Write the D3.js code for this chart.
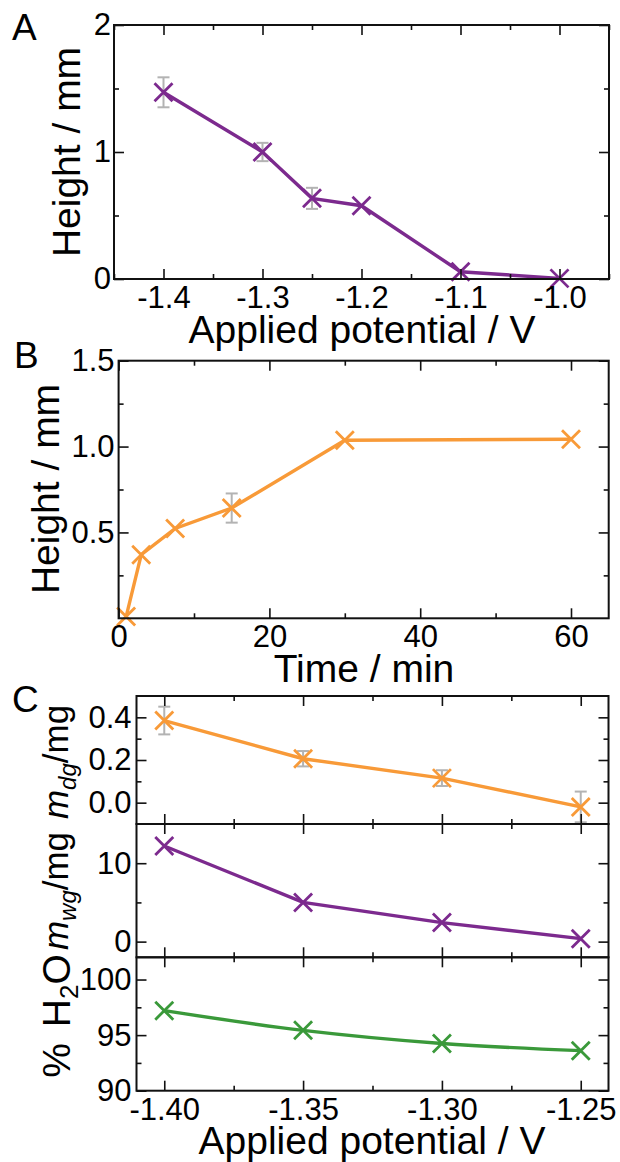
<!DOCTYPE html>
<html>
<head>
<meta charset="utf-8">
<script src="https://cdn.jsdelivr.net/npm/d3@7"></script>
<style>
  body { margin: 0; background: #fff; }
  svg { display: block; }
</style>
</head>
<body>
<svg id="chart" width="620" height="1162"></svg>
<script>
// panel A: gel height vs applied potential
const potA = [-1.4, -1.3, -1.25, -1.2, -1.1, -1.0];
const heightA = [1.47, 1.0, 0.635, 0.577, 0.057, 0.005];
const errA = [0.118, 0.072, 0.083, 0, 0, 0];
const xTicksA = [-1.4, -1.3, -1.2, -1.1, -1.0];
const xMinorA = [-1.45, -1.35, -1.25, -1.15, -1.05, -0.95];
const yTicksA = [0, 1, 2];
const yMinorA = [0.5, 1.5];

// panel B: gel height vs time
const timeB = [1, 3, 7.5, 15, 30, 60];
const heightB = [0.01, 0.37, 0.523, 0.642, 1.037, 1.043];
const errB = [0, 0, 0, 0.085, 0, 0];
const xTicksB = [0, 20, 40, 60];
const xMinorB = [10, 30, 50];
const yTicksB = [0.5, 1.0, 1.5];
const yMinorB = [0.25, 0.75, 1.25];

// panel C: dry mass, wet mass, water content vs applied potential
const potC = [-1.40, -1.35, -1.30, -1.25];
const dryMass = [0.385, 0.206, 0.115, -0.02];
const dryErr = [0.065, 0.036, 0.037, 0.072];
const wetMass = [12.2, 5.0, 2.43, 0.38];
const waterPct = [97.2, 95.43, 94.25, 93.6];
const xTicksC = [-1.40, -1.35, -1.30, -1.25];
const xMinorC = [-1.375, -1.325, -1.275];
const yTicksDry = [0.0, 0.2, 0.4];
const yMinorDry = [0.1, 0.3];
const yTicksWet = [0, 10];
const yMinorWet = [5];
const yTicksWater = [90, 95, 100];
const yMinorWater = [92.5, 97.5];

const purple = "#7c2a8e";
const orange = "#f89a38";
const green = "#3a993a";
const grey = "#b3b3b3";
const FONT = "'Liberation Sans', Arial, Helvetica, sans-serif";

const svg = d3.select("#chart").attr("font-family", FONT);

// plain hyphen for negatives, like the original figure
const fmt = spec => d => d3.format(spec)(d).replace("\u2212", "-");

// box with inward ticks on all four sides
function frame(g, x, y, o) {
  const [x0, x1] = x.range();
  const [yb, yt] = y.range();
  const big = 10, small = 5;

  function side(axisFn, scale, pos, major, minor, f, pad) {
    const a = g.append("g").attr("transform", pos);
    a.call(axisFn(scale).tickValues(major).tickSizeInner(-big).tickSizeOuter(0)
      .tickPadding(pad || 4).tickFormat(f || ""));
    a.append("g").call(axisFn(scale).tickValues(minor).tickSizeInner(-small).tickSizeOuter(0).tickFormat(""));
    a.selectAll(".domain").remove();
    a.selectAll("line").attr("stroke", "#111").attr("stroke-width", 1.6);
    a.attr("font-family", null).attr("font-size", null);
    a.selectAll("text").attr("font-size", 31).attr("fill", "#000");
    return a;
  }
  side(d3.axisBottom, x, `translate(0,${yb})`, o.xMajor, o.xMinor, o.xFmt, 7);
  side(d3.axisTop, x, `translate(0,${yt})`, o.xMajor, o.xMinor, null);
  side(d3.axisLeft, y, `translate(${x0},0)`, o.yMajor, o.yMinor, o.yFmt, o.yPad || 4);
  side(d3.axisRight, y, `translate(${x1},0)`, o.yMajor, o.yMinor, null);

  g.append("rect").attr("x", x0).attr("y", yt).attr("width", x1 - x0).attr("height", yb - yt)
    .attr("fill", "none").attr("stroke", "#111").attr("stroke-width", 2);
}

function series(g, x, y, xs, ys, errs, color, curve) {
  const pts = xs.map((v, i) => ({ x: v, y: ys[i], e: errs ? errs[i] : 0 }));
  const eb = g.append("g").attr("stroke", grey).attr("stroke-width", 2);
  pts.filter(d => d.e > 0).forEach(d => {
    const cx = x(d.x);
    eb.append("line").attr("x1", cx).attr("x2", cx).attr("y1", y(d.y - d.e)).attr("y2", y(d.y + d.e));
    [d.y - d.e, d.y + d.e].forEach(v => {
      eb.append("line").attr("x1", cx - 6).attr("x2", cx + 6).attr("y1", y(v)).attr("y2", y(v));
    });
  });
  g.append("path").datum(pts)
    .attr("fill", "none").attr("stroke", color).attr("stroke-width", 3.4)
    .attr("d", d3.line().x(d => x(d.x)).y(d => y(d.y)).curve(curve || d3.curveLinear));
  g.selectAll(null).data(pts).enter().append("path")
    .attr("transform", d => `translate(${x(d.x)},${y(d.y)})`)
    .attr("d", "M-9,-9L9,9M-9,9L9,-9")
    .attr("stroke", color).attr("stroke-width", 2.8).attr("fill", "none");
}

function title(text, x, y, rotate) {
  return svg.append("text")
    .attr("transform", `translate(${x},${y})` + (rotate ? " rotate(-90)" : ""))
    .attr("text-anchor", "middle").attr("font-size", 39).text(text);
}

function letter(text, x, y) {
  svg.append("text").attr("x", x).attr("y", y).attr("font-size", 37).text(text);
}

// ---- panel A
{
  const x = d3.scaleLinear().domain([-1.45, -0.95]).range([114, 609]);
  const y = d3.scaleLinear().domain([0, 2]).range([279, 25]);
  const g = svg.append("g");
  series(g, x, y, potA, heightA, errA, purple);
  frame(g, x, y, { xMajor: xTicksA, xMinor: xMinorA, xFmt: fmt(".1f"),
    yMajor: yTicksA, yMinor: yMinorA, yFmt: fmt("d"), yPad: 3 });
  title("Applied potential / V", 362, 343);
  title("Height / mm", 80, 152, true);
  letter("A", 12, 40);
}

// ---- panel B
{
  const x = d3.scaleLinear().domain([0, 65]).range([118.6, 608.7]);
  const y = d3.scaleLinear().domain([0, 1.5]).range([618.3, 360.7]);
  const g = svg.append("g");
  series(g, x, y, timeB, heightB, errB, orange);
  frame(g, x, y, { xMajor: xTicksB, xMinor: xMinorB, xFmt: fmt("d"),
    yMajor: yTicksB, yMinor: yMinorB, yFmt: fmt(".1f") });
  title("Time / min", 364, 682);
  title("Height / mm", 59, 489, true);
  letter("B", 14, 368);
}

// ---- panel C (three stacked plots sharing x)
{
  const x = d3.scaleLinear().domain([-1.41, -1.24]).range([136.5, 608.5]);
  const yDry = d3.scaleLinear().domain([-0.1, 0.5]).range([824, 696]);
  const yWet = d3.scaleLinear().domain([-2, 15]).range([957.3, 824]);
  const yWater = d3.scaleLinear().domain([90, 102]).range([1090.7, 957.3]);

  const g1 = svg.append("g");
  series(g1, x, yDry, potC, dryMass, dryErr, orange);
  frame(g1, x, yDry, { xMajor: xTicksC, xMinor: xMinorC, xFmt: () => "",
    yMajor: yTicksDry, yMinor: yMinorDry, yFmt: fmt(".1f"), yPad: 5 });

  const g2 = svg.append("g");
  series(g2, x, yWet, potC, wetMass, null, purple);
  frame(g2, x, yWet, { xMajor: xTicksC, xMinor: xMinorC, xFmt: () => "",
    yMajor: yTicksWet, yMinor: yMinorWet, yFmt: fmt("d"), yPad: 5 });

  const g3 = svg.append("g");
  series(g3, x, yWater, potC, waterPct, null, green, d3.curveMonotoneX);
  frame(g3, x, yWater, { xMajor: xTicksC, xMinor: xMinorC, xFmt: fmt(".2f"),
    yMajor: yTicksWater, yMinor: yMinorWater, yFmt: fmt("d"), yPad: 5 });

  title("Applied potential / V", 372, 1154);

  // rotated labels with sub-scripts
  function massLabel(sub, cy) {
    const t = svg.append("text")
      .attr("transform", `translate(68,${cy}) rotate(-90)`)
      .attr("text-anchor", "middle").attr("font-size", 35);
    t.append("tspan").attr("font-style", "italic").text("m");
    t.append("tspan").attr("font-style", "italic").attr("font-size", 24).attr("dy", 8).text(sub);
    t.append("tspan").attr("dy", -8).text("/mg");
  }
  massLabel("dg", 762);
  massLabel("wg", 891);

  const w = svg.append("text")
    .attr("transform", `translate(70,1016) rotate(-90)`)
    .attr("text-anchor", "middle").attr("font-size", 39);
  w.append("tspan").text("%");
  w.append("tspan").attr("dx", 16).text("H");
  w.append("tspan").attr("font-size", 26).attr("dy", 8).text("2");
  w.append("tspan").attr("dy", -8).text("O");

  letter("C", 12, 712);
}
</script>
</body>
</html>
